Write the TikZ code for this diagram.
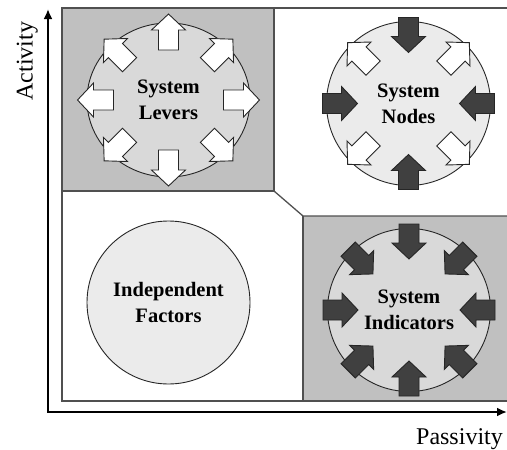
\documentclass[tikz,border=0pt]{standalone}
\usepackage{fontspec}
\setmainfont{Liberation Serif}
\usetikzlibrary{shapes.geometric,arrows.meta}
\definecolor{boxgray}{HTML}{C0C0C0}
\definecolor{framegray}{HTML}{505050}
\definecolor{circA}{HTML}{D9D9D9}
\definecolor{circB}{HTML}{EBEBEB}
\definecolor{darkarr}{HTML}{404040}
\definecolor{arrline}{HTML}{262626}
\tikzset{
  frameline/.style={draw=framegray, line width=1.3pt},
  grayfill/.style={fill=boxgray},
  bubble/.style={draw=arrline, line width=0.9pt, align=center, inner sep=0pt,
    font=\fontsize{20.5}{26}\bfseries\selectfont},
  axisline/.style={line width=2.6pt, black},
  axislabel/.style={font=\fontsize{24}{28}\selectfont, inner sep=0pt},
  pics/outarr/.style={code={
    \draw[draw=arrline, line width=0.9pt, fill=white, line join=miter]
      (50,-10) -- (70,-10) -- (70,-17) -- (86,0) -- (70,17) -- (70,10) -- (50,10) -- cycle;}},
  pics/inarr/.style={code={
    \draw[draw=arrline, line width=0.9pt, fill=darkarr, line join=miter]
      (86,-10) -- (67,-10) -- (67,-17) -- (51,0) -- (67,17) -- (67,10) -- (86,10) -- cycle;}}
}
\begin{document}
\begin{tikzpicture}[x=1pt,y=-1pt]
\useasboundingbox (0,0) rectangle (507,450);
% regions
\fill[grayfill] (62,8) rectangle (274,191);
\fill[grayfill] (303,216) rectangle (510,401);
\draw[frameline] (62,8) rectangle (510,401);
\draw[frameline] (62,191) -- (274,191) -- (274,8);
\draw[frameline] (274,191) -- (303,216) -- (510,216);
\draw[frameline] (303,216) -- (303,401);
% circles
\node[bubble, ellipse, fill=circA, minimum width=163pt, minimum height=154pt] (lev) at (168.5,100) {};
\node[bubble, circle, fill=circB, minimum size=164pt] (nod) at (408.5,103.5) {};
\node[bubble, circle, fill=circA, minimum size=163pt] (ind) at (409,310) {};
\node[bubble, circle, fill=circB, minimum size=163pt] (fac) at (168.5,302.5) {Independent\\Factors};
% arrows
\foreach \a in {0,45,...,315}
  \pic[rotate=\a] at ({168.5+5*cos(\a)},100) {outarr};
\foreach \a in {0,90,180,270}
  \pic[rotate=\a] at (408.5,103.5) {inarr};
\foreach \a in {45,135,225,315}
  \pic[rotate=\a] at (408.5,103.5) {outarr};
\foreach \a in {0,45,...,315}
  \pic[rotate=\a] at (409,310) {inarr};
% labels
\node[bubble, draw=none] (levt) at (lev.center) {System\\Levers};
\node[bubble, draw=none] (nodt) at (nod.center) {System\\Nodes};
\node[bubble, draw=none] (indt) at (ind.center) {System\\Indicators};
% axes
\coordinate (ytop) at (48,9);
\coordinate (orig) at (48,412);
\coordinate (xend) at (507,412);
\draw[axisline, {Latex[length=10pt,width=9pt]}-{Latex[length=10pt,width=9pt]}] (ytop) -- (orig) -- (xend);
\node[axislabel, anchor=base] (pas) at (459.5,444) {Passivity};
\node[axislabel, anchor=base, rotate=90] (act) at (32.5,61) {Activity};
\end{tikzpicture}
\end{document}
